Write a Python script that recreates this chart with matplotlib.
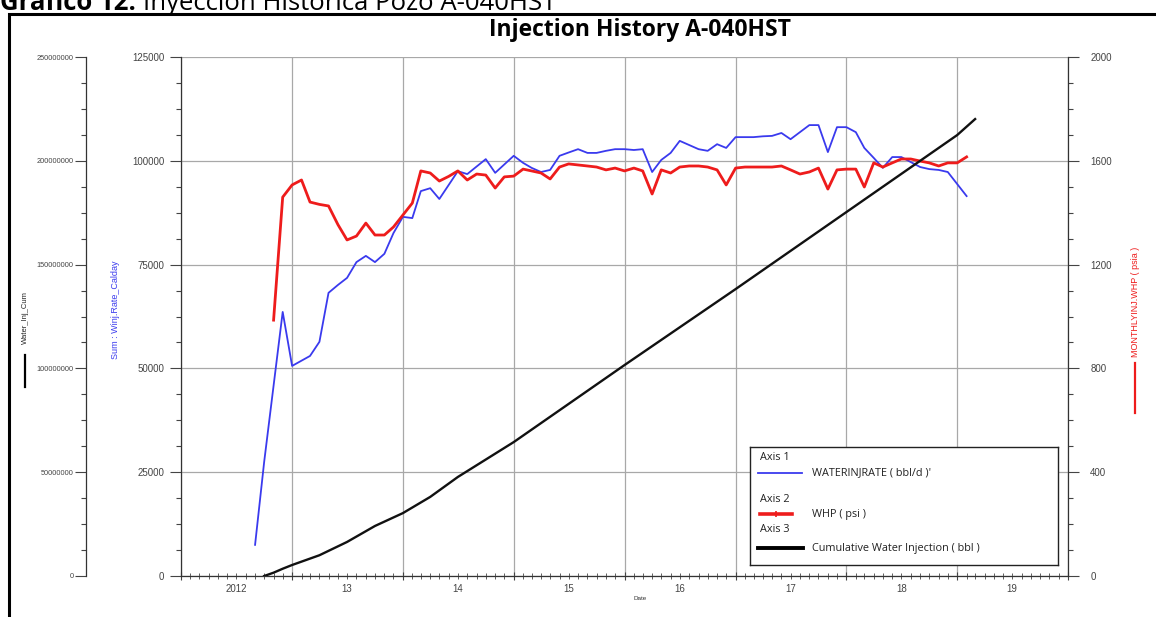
#!/usr/bin/env python3
# -*- coding: utf-8 -*-
"""
Injection history A-040HST: water injection rate, WHP and cumulative injection
"""

from datetime import datetime

import numpy as np
import pandas as pd
import matplotlib
matplotlib.use("Agg")
import matplotlib.pyplot as plt
import matplotlib.dates as mdates
from matplotlib.lines import Line2D
from matplotlib.patches import Rectangle
from matplotlib.ticker import MultipleLocator, FixedLocator, StrMethodFormatter

plt.rcParams['font.family'] = ['Liberation Sans', 'DejaVu Sans']

# ---------------------------------------------------------------------------
# DATA
# ---------------------------------------------------------------------------
rate_months = ['2012-09', '2012-10', '2012-12', '2013-01', '2013-03', '2013-04',
               '2013-05', '2013-06', '2013-07', '2013-08', '2013-09', '2013-10',
               '2013-11', '2013-12', '2014-01', '2014-02', '2014-03', '2014-04',
               '2014-05', '2014-06', '2014-07', '2014-08', '2014-10', '2014-11',
               '2015-01', '2015-02', '2015-03', '2015-04', '2015-05', '2015-06',
               '2015-07', '2015-08', '2015-09', '2015-10', '2015-11', '2015-12',
               '2016-01', '2016-02', '2016-03', '2016-04', '2016-05', '2016-06',
               '2016-07', '2016-08', '2016-09', '2016-10', '2016-11', '2016-12',
               '2017-01', '2017-02', '2017-03', '2017-04', '2017-05', '2017-06',
               '2017-07', '2017-08', '2017-09', '2017-10', '2017-11', '2017-12',
               '2018-01', '2018-02', '2018-03', '2018-04', '2018-05', '2018-06',
               '2018-07', '2018-08', '2018-09', '2018-10', '2018-11', '2018-12',
               '2019-01', '2019-02']
water_inj_rate = [7500, 27500, 63600, 50600, 53000, 56400,
                  68200, 70100, 71800, 75600, 77100, 75600,
                  77600, 82600, 86500, 86200, 92700, 93400,
                  90800, 94200, 97500, 96800, 100400, 97100,
                  101200, 99500, 98300, 97300, 97800, 101200,
                  102000, 102800, 101900, 101900, 102400, 102800,
                  102800, 102600, 102800, 97300, 100200, 101900,
                  104800, 103800, 102800, 102400, 104000, 103100,
                  105700, 105700, 105700, 105900, 106000, 106700,
                  105200, 106900, 108600, 108600, 102100, 108100,
                  108100, 106900, 103100, 100700, 98300, 100900,
                  100900, 99700, 98500, 98000, 97800, 97300,
                  94400, 91500]

whp_months = ['2012-11', '2012-12', '2013-01', '2013-02', '2013-03', '2013-04',
              '2013-05', '2013-06', '2013-07', '2013-08', '2013-09', '2013-10',
              '2013-11', '2013-12', '2014-01', '2014-02', '2014-03', '2014-04',
              '2014-05', '2014-06', '2014-07', '2014-08', '2014-09', '2014-10',
              '2014-11', '2014-12', '2015-01', '2015-02', '2015-03', '2015-04',
              '2015-05', '2015-06', '2015-07', '2015-08', '2015-09', '2015-10',
              '2015-11', '2015-12', '2016-01', '2016-02', '2016-03', '2016-04',
              '2016-05', '2016-06', '2016-07', '2016-08', '2016-09', '2016-10',
              '2016-11', '2016-12', '2017-01', '2017-02', '2017-03', '2017-04',
              '2017-05', '2017-06', '2017-07', '2017-08', '2017-09', '2017-10',
              '2017-11', '2017-12', '2018-01', '2018-02', '2018-03', '2018-04',
              '2018-05', '2018-06', '2018-07', '2018-08', '2018-09', '2018-10',
              '2018-11', '2018-12', '2019-01', '2019-02']
whp_psi = [986, 1460, 1507, 1526, 1441, 1432,
           1426, 1354, 1295, 1310, 1360, 1314,
           1314, 1345, 1391, 1437, 1561, 1553,
           1522, 1540, 1561, 1526, 1549, 1545,
           1495, 1538, 1541, 1568, 1561, 1553,
           1530, 1576, 1588, 1584, 1580, 1576,
           1565, 1572, 1561, 1572, 1561, 1472,
           1565, 1553, 1576, 1580, 1580, 1576,
           1565, 1507, 1572, 1576, 1576, 1576,
           1576, 1580, 1565, 1549, 1557, 1572,
           1491, 1565, 1568, 1568, 1499, 1592,
           1576, 1592, 1607, 1607, 1599, 1592,
           1580, 1592, 1592, 1615]

cum_months = ['2012-10', '2012-11', '2012-12', '2013-01', '2013-04', '2013-07',
              '2013-10', '2014-01', '2014-04', '2014-07', '2015-01', '2016-01',
              '2017-01', '2018-01', '2019-01', '2019-03']
cum_water_inj = [0.0, 1.6e6, 3.5e6, 5.3e6, 10.0e6, 16.4e6,
                 24.1e6, 30.3e6, 38.1e6, 47.7e6, 64.5e6, 101.6e6,
                 138.2e6, 175.3e6, 212.4e6, 220.1e6]

years = [2012, 2013, 2014, 2015, 2016, 2017, 2018, 2019]
year_labels = ['2012', '13', '14', '15', '16', '17', '18', '19']

# ---------------------------------------------------------------------------
# LAYOUT HELPERS
# ---------------------------------------------------------------------------
W, H = 1156, 617


def fx(x):
    return x / W


def fy(y):
    return 1 - y / H


TICK_COL = '#444444'
GRID_COL = '#a8a8a8'
BLUE = '#3a3aee'
RED = '#ee1c1c'
HEAD_FONT = ['Open Sans', 'DejaVu Sans']

fig = plt.figure(figsize=(W / 100, H / 100), dpi=100)
renderer = fig.canvas.get_renderer()

# outer frame and the caption above it (cut by the page edge, as in the source)
fig.add_artist(Rectangle((fx(9), fy(1000)), 2, fy(14) - fy(1000),
                         transform=fig.transFigure, fill=False, lw=2.2, ec='black'))
cap1 = fig.text(fx(0), fy(10), 'Gráfico 12.', fontsize=18.5, fontweight='bold',
                ha='left', va='baseline', family=HEAD_FONT)
bb = cap1.get_window_extent(renderer)
fig.text((bb.x1 + 7) / W, fy(10), 'Inyección Histórica Pozo A-040HST',
         fontsize=18.5, ha='left', va='baseline', family=HEAD_FONT)

fig.text(fx(640), fy(30), 'Injection History A-040HST', fontsize=16.5,
         fontweight='bold', ha='center', va='center', family=HEAD_FONT)

# ---------------------------------------------------------------------------
# AXES
# ---------------------------------------------------------------------------
ax = fig.add_axes([fx(181), fy(576), fx(1068) - fx(181), fy(57) - fy(576)])
ax2 = ax.twinx()
ax3 = ax.twinx()

t_rate = pd.to_datetime(rate_months)
t_whp = pd.to_datetime(whp_months)
t_cum = pd.to_datetime(cum_months)

ax.plot(t_rate, water_inj_rate, color=BLUE, lw=1.3, zorder=3)
ax2.plot(t_whp, whp_psi, color=RED, lw=2.0, zorder=3)
ax3.plot(t_cum, cum_water_inj, color='#111111', lw=1.7, zorder=3)

ax.set_xlim(datetime(2012, 1, 1), datetime(2020, 1, 1))

# axis 1 : rate
ax.set_ylim(0, 125000)
ax.yaxis.set_major_locator(MultipleLocator(25000))
ax.yaxis.set_minor_locator(MultipleLocator(6250))
ax.tick_params(axis='y', which='major', length=8, width=0.8, color=TICK_COL,
               labelsize=7, labelcolor=TICK_COL, pad=4)
ax.tick_params(axis='y', which='minor', length=3.5, width=0.8, color=TICK_COL)

# dates
ax.xaxis.set_major_locator(mdates.YearLocator())
ax.xaxis.set_minor_locator(mdates.MonthLocator())
ax.tick_params(axis='x', which='major', direction='inout', length=6, width=0.8,
               color=TICK_COL, labelbottom=False)
ax.tick_params(axis='x', which='minor', direction='inout', length=4, width=0.6,
               color=TICK_COL)

ax.grid(True, which='major', color=GRID_COL, lw=0.9)
ax.set_axisbelow(True)

sec = ax.secondary_xaxis('bottom')
sec.xaxis.set_major_locator(FixedLocator(
    [mdates.date2num(datetime(y, 7, 1)) for y in years]))
sec.set_xticklabels(year_labels)
sec.tick_params(length=0, labelsize=7, labelcolor=TICK_COL, pad=6)
sec.spines['bottom'].set_visible(False)

for s in ['top', 'right']:
    ax.spines[s].set_visible(False)
for s in ['left', 'bottom']:
    ax.spines[s].set_color('#333333')
    ax.spines[s].set_linewidth(0.9)

# axis 2 : WHP
ax2.set_ylim(0, 2000)
ax2.yaxis.set_major_locator(MultipleLocator(400))
ax2.yaxis.set_minor_locator(MultipleLocator(100))
ax2.tick_params(axis='y', which='major', length=8, width=0.8, color=TICK_COL,
                labelsize=7, labelcolor=TICK_COL, pad=8)
ax2.tick_params(axis='y', which='minor', length=3.5, width=0.8, color=TICK_COL)
for s in ['top', 'left', 'bottom']:
    ax2.spines[s].set_visible(False)
ax2.spines['right'].set_color('#333333')
ax2.spines['right'].set_linewidth(0.9)

# axis 3 : cumulative, on an outer left spine
ax3.set_ylim(0, 250e6)
ax3.spines['left'].set_position(('axes', (86 - 181) / (1068 - 181)))
ax3.spines['left'].set_visible(True)
ax3.spines['left'].set_color('#333333')
ax3.spines['left'].set_linewidth(0.9)
for s in ['top', 'right', 'bottom']:
    ax3.spines[s].set_visible(False)
ax3.yaxis.set_ticks_position('left')
ax3.yaxis.set_label_position('left')
ax3.yaxis.set_major_locator(MultipleLocator(50e6))
ax3.yaxis.set_minor_locator(MultipleLocator(12.5e6))
ax3.yaxis.set_major_formatter(StrMethodFormatter('{x:.0f}'))
ax3.tick_params(axis='y', which='major', length=8, width=0.8, color=TICK_COL,
                labelsize=5.3, labelcolor=TICK_COL, pad=1)
ax3.tick_params(axis='y', which='minor', length=3.5, width=0.8, color=TICK_COL)

# axis titles with their line keys
fig.text(fx(25), fy(318), 'Water_Inj_Cum', rotation=90, fontsize=5.5,
         color='#222222', ha='center', va='center')
fig.add_artist(Line2D([fx(25), fx(25)], [fy(355), fy(387)],
                      transform=fig.transFigure, color='black', lw=1.6))
fig.text(fx(115), fy(310), 'Sum : Winj.Rate_Calday', rotation=90, fontsize=6.5,
         color=BLUE, ha='center', va='center')
fig.text(fx(1135), fy(302), 'MONTHLYINJ.WHP ( psia )', rotation=90,
         fontsize=6.5, color=RED, ha='center', va='center')
fig.add_artist(Line2D([fx(1135), fx(1135)], [fy(363), fy(413)],
                      transform=fig.transFigure, color=RED, lw=1.6))
fig.text(fx(640), fy(598), 'Date', fontsize=4.5, color='#333333',
         ha='center', va='center')

# ---------------------------------------------------------------------------
# LEGEND BOX
# ---------------------------------------------------------------------------
lx0, lx1, ly0, ly1 = 750, 1058, 447, 565
leg = fig.add_axes([fx(lx0), fy(ly1), fx(lx1) - fx(lx0), fy(ly0) - fy(ly1)])
leg.set_xlim(lx0, lx1)
leg.set_ylim(ly1, ly0)
leg.set_xticks([])
leg.set_yticks([])
leg.set_facecolor('white')
for s in leg.spines.values():
    s.set_color('#222222')
    s.set_linewidth(1.0)

lfont = dict(fontsize=7.8, va='center', ha='left', color='#222222',
             family=HEAD_FONT)
leg.text(760, 458, 'Axis 1', **lfont)
leg.plot([758, 802], [473, 473], color=BLUE, lw=1.3)
leg.text(812, 473, "WATERINJRATE ( bbl/d )'", **lfont)
leg.text(760, 499, 'Axis 2', **lfont)
leg.plot([760, 776, 792], [514, 514, 514], color=RED, lw=2.6,
         marker='|', markevery=[1], markersize=4, markeredgewidth=1.2)
leg.text(812, 514, 'WHP ( psi )', **lfont)
leg.text(760, 530, 'Axis 3', **lfont)
leg.plot([758, 803], [548, 548], color='black', lw=2.8)
leg.text(812, 549, 'Cumulative Water Injection ( bbl )', **lfont)

fig.savefig('out.png', dpi=100)
